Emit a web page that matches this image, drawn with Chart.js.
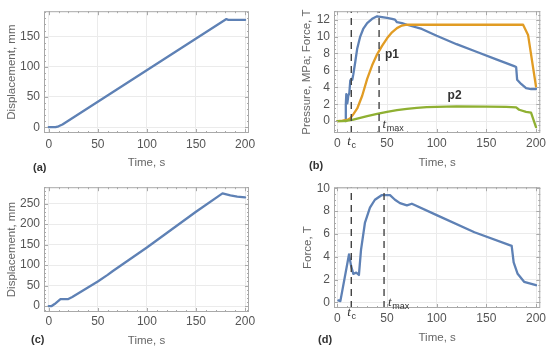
<!DOCTYPE html>
<html><head><meta charset="utf-8">
<script src="https://cdn.jsdelivr.net/npm/chart.js@4"></script>
<style>
html,body{margin:0;padding:0;background:#fff;}
#wrap{position:relative;width:550px;height:353px;overflow:hidden;background:#fff;}
canvas{position:absolute;}
.lbl{position:absolute;font:bold 11px "Liberation Sans",Arial,sans-serif;color:#333;}
</style></head><body>
<div id="wrap">
<canvas id="ca" width="275" height="176" style="left:0;top:0"></canvas>
<canvas id="cb" width="275" height="176" style="left:275px;top:0"></canvas>
<canvas id="cc" width="275" height="177" style="left:0;top:176px"></canvas>
<canvas id="cd" width="275" height="177" style="left:275px;top:176px"></canvas>
<div class="lbl" style="left:33px;top:161px">(a)</div>
<div class="lbl" style="left:309px;top:159px">(b)</div>
<div class="lbl" style="left:31px;top:333px">(c)</div>
<div class="lbl" style="left:318px;top:333px">(d)</div>
</div>
<script>
// ---------- data ----------
const xTicks = [0, 50, 100, 150, 200];
const yTicksA = [0, 50, 100, 150];
const yTicksB = [0, 2, 4, 6, 8, 10, 12];
const yTicksC = [0, 50, 100, 150, 200, 250];
const yTicksD = [0, 2, 4, 6, 8, 10];

// (a) displacement
const timeA = [0, 7, 10, 14, 181, 183, 200];
const dispA = [0, 0, 1.5, 4.5, 179, 177.5, 177.5];

// (b) force and pressures
const timeBF = [8, 8.5, 9, 10, 11, 12, 13, 14, 15, 16, 18, 20, 23, 26, 30, 35, 40, 45, 50, 55, 58, 60, 65, 70, 85, 100, 120, 140, 160, 178, 180, 181, 185, 190, 195, 200];
const forceB = [0, 2, 3.2, 2.1, 3.0, 3.3, 4.8, 5.0, 4.9, 5.5, 7.0, 8.6, 10.0, 10.9, 11.6, 12.1, 12.4, 12.3, 12.2, 12.1, 12.0, 11.7, 11.6, 11.4, 10.9, 10.1, 9.1, 8.2, 7.3, 6.5, 6.4, 4.9, 4.4, 3.9, 3.8, 3.8];
const timeP1 = [0, 5, 10, 13, 16, 20, 25, 30, 35, 40, 45, 50, 55, 60, 65, 70, 187, 192, 200];
const p1 = [0, 0.05, 0.15, 0.35, 0.8, 1.5, 3.0, 5.0, 6.6, 7.9, 8.9, 9.8, 10.5, 11.0, 11.3, 11.4, 11.4, 10.2, 4.1];
const timeP2 = [0, 5, 10, 15, 20, 30, 40, 50, 60, 70, 80, 90, 100, 120, 150, 170, 180, 183, 190, 195, 200];
const p2 = [0, 0, 0.05, 0.15, 0.3, 0.6, 0.85, 1.1, 1.3, 1.45, 1.58, 1.65, 1.7, 1.75, 1.73, 1.68, 1.63, 1.35, 1.1, 1.0, -0.7];
const tcB = 14, tmaxB = 42;

// (c) displacement
const timeC = [0, 3, 6, 12, 20, 24, 50, 60, 65, 100, 150, 177, 185, 192, 200];
const dispC = [0, 0, 5, 17, 17, 22, 60, 76, 85, 143, 230, 275, 270, 267, 265];

// (d) force
const timeD = [1, 3, 11.7, 13.8, 16, 19, 21.7, 23.8, 27.8, 32.8, 37.8, 44.5, 53, 58, 63, 70, 75, 100, 138, 175.5, 177.5, 181.5, 188, 200];
const forceD = [0.17, 0.1, 4.2, 3.2, 2.5, 2.6, 2.4, 4.6, 7.0, 8.3, 9.0, 9.4, 9.4, 9.0, 8.7, 8.5, 8.65, 7.65, 6.15, 4.95, 3.5, 2.5, 1.8, 1.5];
const tcD = 14, tmaxD = 47;

// ---------- helpers ----------
const FAM = '"Liberation Sans", Arial, sans-serif';
const BLUE = '#5e81b5', ORANGE = '#e19c24', GREEN = '#8fb032';
const pts = (xs, ys) => xs.map((v, i) => ({x: v, y: ys[i]}));

function lineDS(xs, ys, color) {
  return {data: pts(xs, ys), borderColor: color, borderWidth: 2.3, pointRadius: 0, tension: 0, fill: false,
          borderJoinStyle: 'round', borderCapStyle: 'round'};
}
function vDash(xv, yr) {
  return {data: [{x: xv, y: yr[0]}, {x: xv, y: yr[1]}], borderColor: '#444', borderWidth: 1.4,
          borderDash: [7, 5], pointRadius: 0, fill: false};
}

const framePlugin = {
  id: 'frame',
  afterDraw(chart, args, o) {
    const {ctx, chartArea: a, scales: {x, y}} = chart;
    ctx.save();
    ctx.strokeStyle = '#a9a9a9';
    ctx.lineWidth = 1;
    ctx.strokeRect(a.left + 0.5, a.top + 0.5, a.right - a.left - 1, a.bottom - a.top - 1);
    const seg = (x1, y1, x2, y2) => { ctx.beginPath(); ctx.moveTo(x1, y1); ctx.lineTo(x2, y2); ctx.stroke(); };
    const tickX = (v, len) => {
      const p = Math.round(x.getPixelForValue(v)) + 0.5;
      if (p < a.left || p > a.right) return;
      seg(p, a.bottom, p, a.bottom - len); seg(p, a.top, p, a.top + len);
    };
    const tickY = (v, len) => {
      const p = Math.round(y.getPixelForValue(v)) + 0.5;
      if (p < a.top || p > a.bottom) return;
      seg(a.left, p, a.left + len, p); seg(a.right, p, a.right - len, p);
    };
    for (let v = Math.ceil(x.min / o.xMinor) * o.xMinor; v <= x.max; v += o.xMinor) tickX(v, 2);
    for (let v = Math.ceil(y.min / o.yMinor) * o.yMinor; v <= y.max + 1e-9; v += o.yMinor) tickY(v, 2);
    o.xMajor.forEach(v => tickX(v, 4));
    o.yMajor.forEach(v => tickY(v, 4));
    // annotations
    (o.notes || []).forEach(n => {
      const px = x.getPixelForValue(n.x);
      const py = n.y === null ? a.bottom + n.dy : y.getPixelForValue(n.y);
      ctx.textBaseline = 'middle';
      if (n.sub) {
        ctx.fillStyle = '#333';
        ctx.font = 'italic 13px "Liberation Serif", "Times New Roman", serif';
        ctx.textAlign = 'left';
        const w = ctx.measureText(n.text).width;
        const x0 = n.align === 'center' ? px - (w + 4) / 2 : px;
        ctx.fillText(n.text, x0, py - 1);
        ctx.font = '9px ' + FAM;
        ctx.fillText(n.sub, x0 + w + 0.5, py + 3);
      } else {
        ctx.fillStyle = '#333';
        ctx.font = 'bold 12px ' + FAM;
        ctx.textAlign = 'center';
        ctx.fillText(n.text, px, py);
      }
    });
    ctx.restore();
  }
};

function makeChart(id, g) {
  const el = document.getElementById(id);
  return new Chart(el, {
    type: 'line',
    data: {datasets: g.datasets},
    plugins: [framePlugin],
    options: {
      responsive: false, animation: false, events: [],
      layout: {padding: {left: 0, right: g.w - g.right, top: g.top, bottom: 0}},
      plugins: {
        legend: {display: false}, tooltip: {enabled: false},
        frame: {xMinor: 10, yMinor: g.yMinor, xMajor: xTicks, yMajor: g.yTicks, notes: g.notes}
      },
      scales: {
        x: {
          type: 'linear', min: g.xr[0], max: g.xr[1],
          afterBuildTicks: s => { s.ticks = xTicks.map(v => ({value: v})); },
          afterFit: s => { s.height = g.h - g.bottom; },
          grid: {color: '#ebebeb', drawTicks: false, lineWidth: 1},
          border: {display: false},
          ticks: {padding: g.xPad, color: '#555', font: {family: FAM, size: 12}, maxRotation: 0, autoSkip: false},
          title: {display: true, text: 'Time, s', color: '#666', font: {family: FAM, size: 11.5},
                  padding: {top: 0, bottom: g.xTitlePad}}
        },
        y: {
          type: 'linear', min: g.yr[0], max: g.yr[1],
          afterBuildTicks: s => { s.ticks = g.yTicks.map(v => ({value: v})); },
          afterFit: s => { s.width = g.left; },
          grid: {color: '#ebebeb', drawTicks: false, lineWidth: 1},
          border: {display: false},
          ticks: {padding: 4, color: '#555', font: {family: FAM, size: 12}, autoSkip: false},
          title: {display: true, text: g.yTitle, color: '#666', font: {family: FAM, size: 11.5},
                  padding: {top: g.yTitlePad, bottom: 0}}
        }
      }
    }
  });
}

const xrA = [-4.8, 204];
const xrB = [-3.4, 204.3];
const yrA = [-9.6, 192], yrB = [-1.4, 13], yrC = [-14.5, 290], yrD = [-0.5, 10.1];

makeChart('ca', {w: 275, h: 176, left: 44, right: 249, top: 5, bottom: 133,
  xr: xrA, yr: yrA, yTicks: yTicksA, yMinor: 10, xPad: 4.8, xTitlePad: 6, yTitlePad: 4.8,
  yTitle: 'Displacement, mm', datasets: [lineDS(timeA, dispA, BLUE)]});

makeChart('cb', {w: 275, h: 176, left: 59, right: 266, top: 7, bottom: 133,
  xr: xrB, yr: yrB, yTicks: yTicksB, yMinor: 0.5, xPad: 3.8, xTitlePad: 6.4, yTitlePad: 24.8,
  yTitle: 'Pressure, MPa; Force, T',
  datasets: [vDash(tcB, yrB), vDash(tmaxB, yrB),
             lineDS(timeP2, p2, GREEN), lineDS(timeP1, p1, ORANGE), lineDS(timeBF, forceB, BLUE)],
  notes: [{text: 'p1', x: 55, y: 7.86}, {text: 'p2', x: 118, y: 3.07},
          {text: 't', sub: 'max', x: 45.5, y: -0.55},
          {text: 't', sub: 'c', x: 13.8, y: null, dy: 10, align: 'center'}]});

makeChart('cc', {w: 275, h: 177, left: 44, right: 249, top: 10, bottom: 136,
  xr: xrA, yr: yrC, yTicks: yTicksC, yMinor: 10, xPad: 2.5, xTitlePad: 5.1, yTitlePad: 4.8,
  yTitle: 'Displacement, mm', datasets: [lineDS(timeC, dispC, BLUE)]});

makeChart('cd', {w: 275, h: 177, left: 59, right: 266, top: 5, bottom: 132,
  xr: xrB, yr: yrD, yTicks: yTicksD, yMinor: 0.5, xPad: 3.8, xTitlePad: 8.4, yTitlePad: 26.4,
  yTitle: 'Force, T',
  datasets: [vDash(tcD, yrD), vDash(tmaxD, yrD), lineDS(timeD, forceD, BLUE)],
  notes: [{text: 't', sub: 'max', x: 51, y: -0.15},
          {text: 't', sub: 'c', x: 13.8, y: null, dy: 6, align: 'center'}]});
</script>
</body></html>
